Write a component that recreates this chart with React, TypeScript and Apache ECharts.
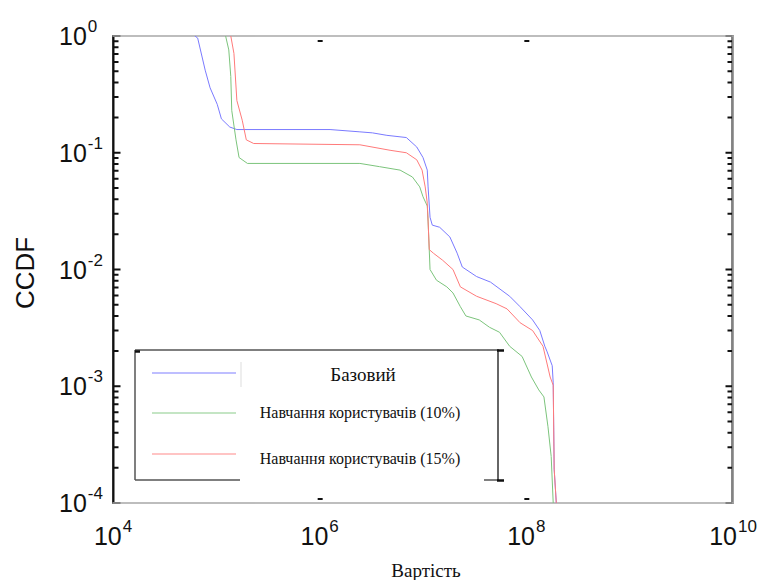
import React, { useEffect, useRef } from "react";
import * as echarts from "echarts";

// ---- data ----
const BASE_X = [6.2e4, 6.6e4, 7.8e4, 8.7e4, 1.02e5, 1.12e5, 1.35e5, 1.58e5, 1.26e6, 2.45e6, 3.24e6, 4.47e6, 6.9e6, 8.7e6, 1.0e7, 1.1e7, 1.12e7, 1.17e7, 1.23e7, 1.45e7, 1.82e7, 2.14e7, 2.4e7, 3.3e7, 4.5e7, 6.9e7, 8.7e7, 1.15e8, 1.35e8, 1.51e8, 1.58e8, 1.78e8, 1.82e8, 1.86e8, 1.95e8];
const BASE_Y = [1, 0.96, 0.51, 0.36, 0.26, 0.195, 0.166, 0.158, 0.158, 0.151, 0.148, 0.141, 0.135, 0.112, 0.091, 0.071, 0.051, 0.028, 0.024, 0.023, 0.019, 0.0138, 0.0105, 0.0087, 0.0078, 0.0059, 0.0048, 0.0037, 0.003, 0.0022, 0.002, 0.0015, 0.00107, 0.000195, 0.0001];

const T10_X = [1.23e5, 1.32e5, 1.38e5, 1.41e5, 1.55e5, 1.66e5, 2.0e5, 2.45e6, 3.8e6, 6.0e6, 7.9e6, 9.3e6, 1.0e7, 1.1e7, 1.12e7, 1.17e7, 1.35e7, 1.7e7, 1.95e7, 2.3e7, 2.6e7, 3.5e7, 4.4e7, 5.5e7, 6.9e7, 9.1e7, 1.12e8, 1.32e8, 1.48e8, 1.62e8, 1.74e8, 1.82e8];
const T10_Y = [1, 0.76, 0.45, 0.23, 0.129, 0.091, 0.081, 0.081, 0.076, 0.071, 0.062, 0.051, 0.042, 0.035, 0.026, 0.01, 0.0081, 0.0071, 0.0063, 0.0048, 0.004, 0.0037, 0.0032, 0.0029, 0.0022, 0.0018, 0.0012, 0.00093, 0.00081, 0.00045, 0.00025, 0.0001];

const T15_X = [1.38e5, 1.48e5, 1.58e5, 1.78e5, 1.95e5, 2.3e5, 2.45e6, 4.8e6, 6.9e6, 8.7e6, 9.8e6, 1.05e7, 1.1e7, 1.12e7, 1.15e7, 1.26e7, 1.55e7, 1.95e7, 2.3e7, 3.3e7, 5.1e7, 6.5e7, 8.7e7, 1.15e8, 1.45e8, 1.7e8, 1.82e8, 1.86e8, 1.95e8];
const T15_Y = [1, 0.71, 0.28, 0.19, 0.129, 0.12, 0.117, 0.105, 0.1, 0.087, 0.071, 0.051, 0.037, 0.026, 0.0148, 0.0138, 0.012, 0.01, 0.0071, 0.0059, 0.0051, 0.0046, 0.0035, 0.003, 0.0022, 0.0012, 0.00102, 0.000195, 0.0001];

const SERIES_NAMES = ["Базовий", "Навчання користувачів (10%)", "Навчання користувачів (15%)"];
const SERIES_COLORS = ["#7a7aff", "#7cc47c", "#ff7a7a"];
const LEGEND_COLORS = ["#a8a8ff", "#b0dcb0", "#ffb0b0"];

// axis ranges / ticks
const X_MIN = 1e4;
const X_MAX = 1e10;
const Y_MIN = 1e-4;
const Y_MAX = 1;
const X_TICKS = [1e6, 1e8];
const Y_MAJOR = [1, 1e-1, 1e-2, 1e-3, 1e-4];
const Y_DECADES = [1e-4, 1e-3, 1e-2, 1e-1];
const MINOR_MULT = [2, 3, 4, 5, 6, 7, 8, 9];

const X_TITLE = "Вартість";
const Y_TITLE = "CCDF";

function zip(xs: number[], ys: number[]) {
  return xs.map((x, i) => [x, ys[i]]);
}

function powLabel(v: number) {
  const e = Math.round(Math.log10(v));
  return `{b|10}{s|${e}}`;
}

const labelRich = {
  b: { fontSize: 25, fontFamily: "Liberation Sans", color: "#111", lineHeight: 30 },
  s: { fontSize: 17, fontFamily: "Liberation Sans", color: "#111", lineHeight: 17, padding: [0, 0, 19, 1] },
};

export default function App() {
  const ref = useRef<HTMLDivElement>(null);
  useEffect(() => {
    if (!ref.current) return;
    const chart = echarts.init(ref.current, null, { renderer: "svg" });

    const gL = 113, gR = 733, gT = 36, gB = 503;
    const frameAxis = (pos: string, color: string) => ({
      position: pos,
      axisLine: { show: true, lineStyle: { color, width: 1.5 } },
      axisTick: { show: false },
      splitLine: { show: false },
    });

    const option: any = {
      animation: false,
      backgroundColor: "#fff",
      grid: { left: gL, right: 760 - gR, top: gT, bottom: 580 - gB, containLabel: false },
      xAxis: [
        {
          type: "log", logBase: 100, min: X_MIN, max: X_MAX,
          ...frameAxis("bottom", "#a8a8a8"),
          axisLabel: { formatter: powLabel, rich: labelRich, margin: 18 },
        },
        {
          type: "log", logBase: 100, min: X_MIN, max: X_MAX,
          ...frameAxis("top", "#a8a8a8"),
          axisLabel: { show: false },
        },
      ],
      yAxis: [
        {
          type: "log", min: Y_MIN, max: Y_MAX,
          ...frameAxis("left", "#111"),
          axisLabel: { formatter: powLabel, rich: labelRich, margin: 54, align: "left" },
        },
        {
          type: "log", min: Y_MIN, max: Y_MAX,
          ...frameAxis("right", "#a8a8a8"),
          axisLabel: { show: false },
        },
      ],
      series: [
        {
          name: SERIES_NAMES[0], type: "line", data: zip(BASE_X, BASE_Y), showSymbol: false,
          lineStyle: { color: SERIES_COLORS[0], width: 1 }, itemStyle: { color: SERIES_COLORS[0] },
        },
        {
          name: SERIES_NAMES[1], type: "line", data: zip(T10_X, T10_Y), showSymbol: false,
          lineStyle: { color: SERIES_COLORS[1], width: 1 }, itemStyle: { color: SERIES_COLORS[1] },
        },
        {
          name: SERIES_NAMES[2], type: "line", data: zip(T15_X, T15_Y), showSymbol: false,
          lineStyle: { color: SERIES_COLORS[2], width: 1 }, itemStyle: { color: SERIES_COLORS[2] },
        },
      ],
    };
    chart.setOption(option);

    // tick positions through the chart's own scales
    const yPx = (v: number): number => Number(chart.convertToPixel({ yAxisIndex: 0 }, v));
    const xPx = (v: number): number => Number(chart.convertToPixel({ xAxisIndex: 0 }, v));

    const yVals: { v: number; len: number }[] = [];
    Y_MAJOR.forEach((v) => yVals.push({ v, len: 7 }));
    Y_DECADES.forEach((d) => MINOR_MULT.forEach((m) => yVals.push({ v: d * m, len: 5 })));

    // one zig-zag polyline per side: out along each tick and back along it
    const leftPts: number[][] = [];
    const rightPts: number[][] = [];
    yVals
      .map((t) => ({ py: yPx(t.v), len: t.len }))
      .sort((a, b) => a.py - b.py)
      .forEach(({ py, len }) => {
        leftPts.push([gL + 0.5, py], [gL + 0.5 + len, py], [gL + 0.5, py]);
        rightPts.push([gR - 0.5, py], [gR - 0.5 - len, py], [gR - 0.5, py]);
      });

    const frameTicks: any[] = [
      { type: "polyline", shape: { points: leftPts }, style: { stroke: "#111", lineWidth: 2, fill: "none" } },
      { type: "polyline", shape: { points: rightPts }, style: { stroke: "#111", lineWidth: 2, fill: "none" } },
    ];
    X_TICKS.forEach((v) => {
      const px = xPx(v);
      frameTicks.push({ type: "rect", shape: { x: px - 2, y: gT + 4, width: 5, height: 2 }, style: { fill: "#111" } });
      frameTicks.push({ type: "rect", shape: { x: px - 2, y: gB - 5, width: 5, height: 2 }, style: { fill: "#111" } });
    });

    const legend: any[] = [
      { type: "rect", shape: { x: 135, y: 350, width: 365, height: 130 }, style: { fill: "#fff" } },
      { type: "line", shape: { x1: 135, y1: 350, x2: 499, y2: 350 }, style: { stroke: "#555", lineWidth: 1.5 } },
      { type: "line", shape: { x1: 135, y1: 350, x2: 135, y2: 480 }, style: { stroke: "#555", lineWidth: 1.5 } },
      { type: "line", shape: { x1: 135, y1: 480, x2: 240, y2: 480 }, style: { stroke: "#555", lineWidth: 1.5 } },
      { type: "line", shape: { x1: 484, y1: 480, x2: 499, y2: 480 }, style: { stroke: "#555", lineWidth: 1.5 } },
      { type: "line", shape: { x1: 498, y1: 350, x2: 498, y2: 480 }, style: { stroke: "#333", lineWidth: 1.5 } },
      { type: "line", shape: { x1: 497, y1: 350.5, x2: 504, y2: 350.5 }, style: { stroke: "#111", lineWidth: 2.5 } },
      { type: "line", shape: { x1: 497, y1: 480.5, x2: 504, y2: 480.5 }, style: { stroke: "#111", lineWidth: 2.5 } },
      { type: "line", shape: { x1: 135, y1: 351.5, x2: 140, y2: 351.5 }, style: { stroke: "#111", lineWidth: 2.5 } },
      { type: "line", shape: { x1: 241, y1: 362, x2: 241, y2: 387 }, style: { stroke: "#ddd", lineWidth: 1 } },
      { type: "line", shape: { x1: 152, y1: 373, x2: 236, y2: 373 }, style: { stroke: LEGEND_COLORS[0], lineWidth: 1.5 } },
      { type: "line", shape: { x1: 152, y1: 413, x2: 236, y2: 413 }, style: { stroke: LEGEND_COLORS[1], lineWidth: 1.5 } },
      { type: "line", shape: { x1: 152, y1: 454, x2: 236, y2: 454 }, style: { stroke: LEGEND_COLORS[2], lineWidth: 1.5 } },
      {
        type: "text", x: 363, y: 374,
        style: { text: SERIES_NAMES[0], font: "19px 'Liberation Serif'", fill: "#111", align: "center", verticalAlign: "middle" },
      },
      {
        type: "text", x: 360, y: 412,
        style: { text: SERIES_NAMES[1], font: "16px 'Liberation Serif'", fill: "#111", align: "center", verticalAlign: "middle" },
      },
      {
        type: "text", x: 360, y: 458,
        style: { text: SERIES_NAMES[2], font: "16px 'Liberation Serif'", fill: "#111", align: "center", verticalAlign: "middle" },
      },
    ];

    chart.setOption({
      graphic: [
        {
          type: "text", id: "ytitle", x: 25, y: 273, rotation: Math.PI / 2,
          style: { text: Y_TITLE, font: "26px 'Liberation Sans'", fill: "#111", align: "center", verticalAlign: "middle" },
        },
        {
          type: "text", id: "xtitle", x: 426, y: 570,
          style: { text: X_TITLE, font: "19px 'Liberation Serif'", fill: "#111", align: "center", verticalAlign: "middle" },
        },
        { type: "group", id: "legend", children: legend },
        { type: "group", id: "frameTicks", z: 100, children: frameTicks },
      ],
    });
    return () => chart.dispose();
  }, []);
  return <div ref={ref} style={{ position: "fixed", left: 0, top: 0, width: 760, height: 580 }} />;
}
